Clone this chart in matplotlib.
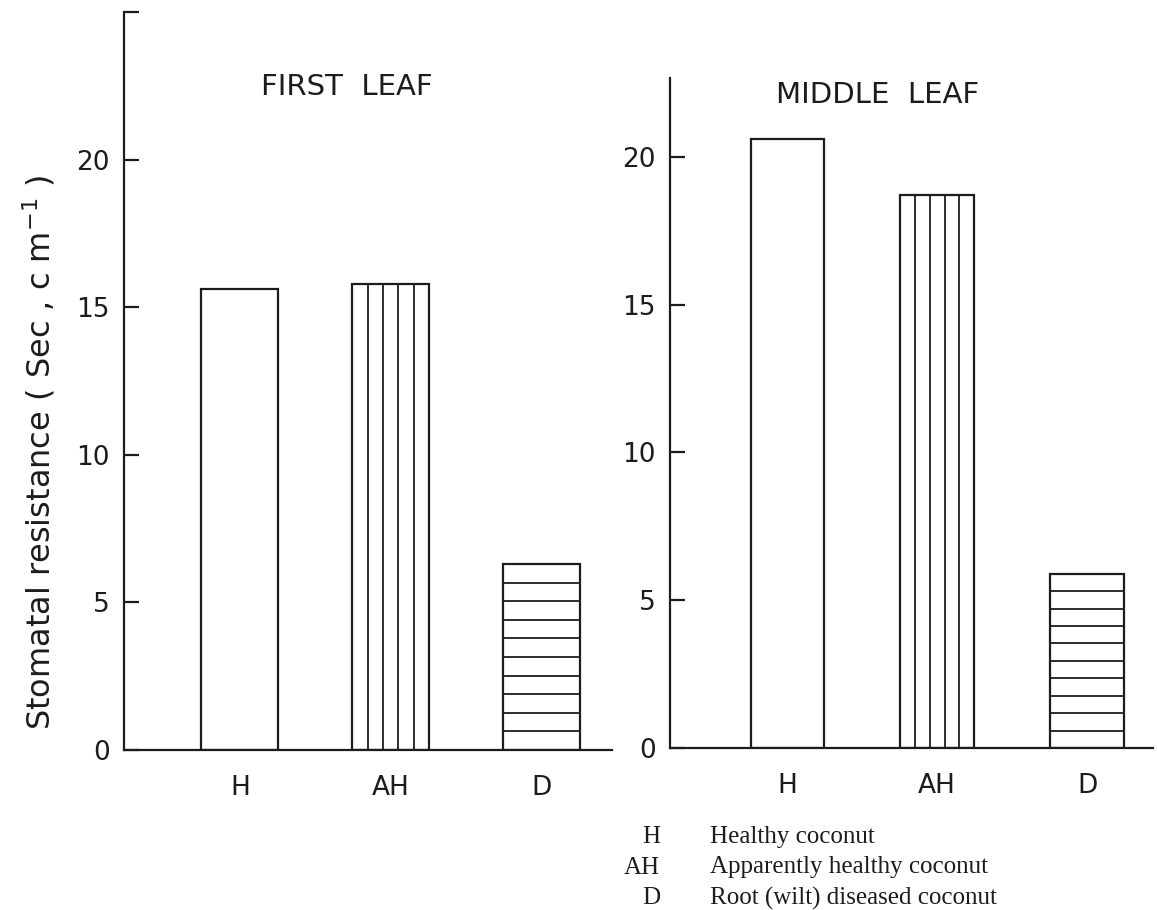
import matplotlib
matplotlib.use("Agg")
import matplotlib.pyplot as plt

# bar heights (Sec cm^-1)
categories = ["H", "AH", "D"]
first_leaf = [15.6, 15.8, 6.3]
middle_leaf = [20.6, 18.7, 5.9]
first_ticks = [0, 5, 10, 15, 20, 25]
first_tick_labels = ["0", "5", "10", "15", "20", ""]
middle_ticks = [0, 5, 10, 15, 20]
legend_keys = ["H", "AH", "D"]
legend_names = ["Healthy coconut", "Apparently healthy coconut",
                "Root (wilt) diseased coconut"]

W, H = 1157, 910
INK = "#1c1c1c"

fig = plt.figure(figsize=(W / 100, H / 100), dpi=100)
fig.patch.set_facecolor("white")


def px_rect(x0, x1, y_top, y_base):
    return [x0 / W, (H - y_base) / H, (x1 - x0) / W, (y_base - y_top) / H]


def draw_panel(ax, values, ticks, tick_labels, ymax, xlim, width):
    ax.set_xlim(*xlim)
    ax.set_ylim(0, ymax)
    for i, v in enumerate(values):
        ax.bar(i, v, width=width, facecolor="white", edgecolor=INK,
               linewidth=1.6, zorder=2)
    # AH: vertical stripes, 5 strips
    x0 = 1 - width / 2
    ax.vlines([x0 + k * width / 5 for k in range(1, 5)], 0, values[1],
              color=INK, linewidth=1.3, zorder=3)
    # D: horizontal stripes, 10 strips
    ax.hlines([values[2] * k / 10 for k in range(1, 10)],
              2 - width / 2, 2 + width / 2, color=INK, linewidth=1.3, zorder=3)

    for s in ["top", "right"]:
        ax.spines[s].set_visible(False)
    for s in ["left", "bottom"]:
        ax.spines[s].set_linewidth(1.6)
        ax.spines[s].set_color(INK)
    ax.set_yticks(ticks)
    ax.set_yticklabels(tick_labels)
    ax.tick_params(axis="y", direction="in", length=11, width=1.6,
                   color=INK, labelsize=19, pad=10, labelcolor=INK)
    ax.set_xticks(range(len(categories)))
    ax.set_xticklabels(categories)
    ax.tick_params(axis="x", length=0, labelsize=19, pad=18, labelcolor=INK)
    ax.patch.set_alpha(0)


ax1 = fig.add_axes(px_rect(124, 612, 12, 750))
draw_panel(ax1, first_leaf, first_ticks, first_tick_labels, 25,
           (-0.768, 2.467), 0.51)

ax2 = fig.add_axes(px_rect(670, 1153, 78, 748))
draw_panel(ax2, middle_leaf, middle_ticks, [str(t) for t in middle_ticks],
           22.67, (-0.783, 2.44), 0.49)

fig.text(347 / W, 1 - 87 / H, "FIRST  LEAF", ha="center", va="center",
         fontsize=21, color=INK)
fig.text(878 / W, 1 - 95 / H, "MIDDLE  LEAF", ha="center", va="center",
         fontsize=21, color=INK)

fig.text(39 / W, 1 - 452 / H, r"Stomatal resistance ( Sec , c m$^{-1}$ )",
         rotation=90, ha="center", va="center", fontsize=23, color=INK)

for i, (k, name) in enumerate(zip(legend_keys, legend_names)):
    y = 1 - (837 + 30.5 * i) / H
    fig.text(660 / W, y, k, ha="right", va="center", fontsize=18,
             family="Liberation Serif", color=INK)
    fig.text(710 / W, y, name, ha="left", va="center", fontsize=18,
             family="Liberation Serif", color=INK)

fig.savefig("out.png", dpi=100, facecolor="white")
